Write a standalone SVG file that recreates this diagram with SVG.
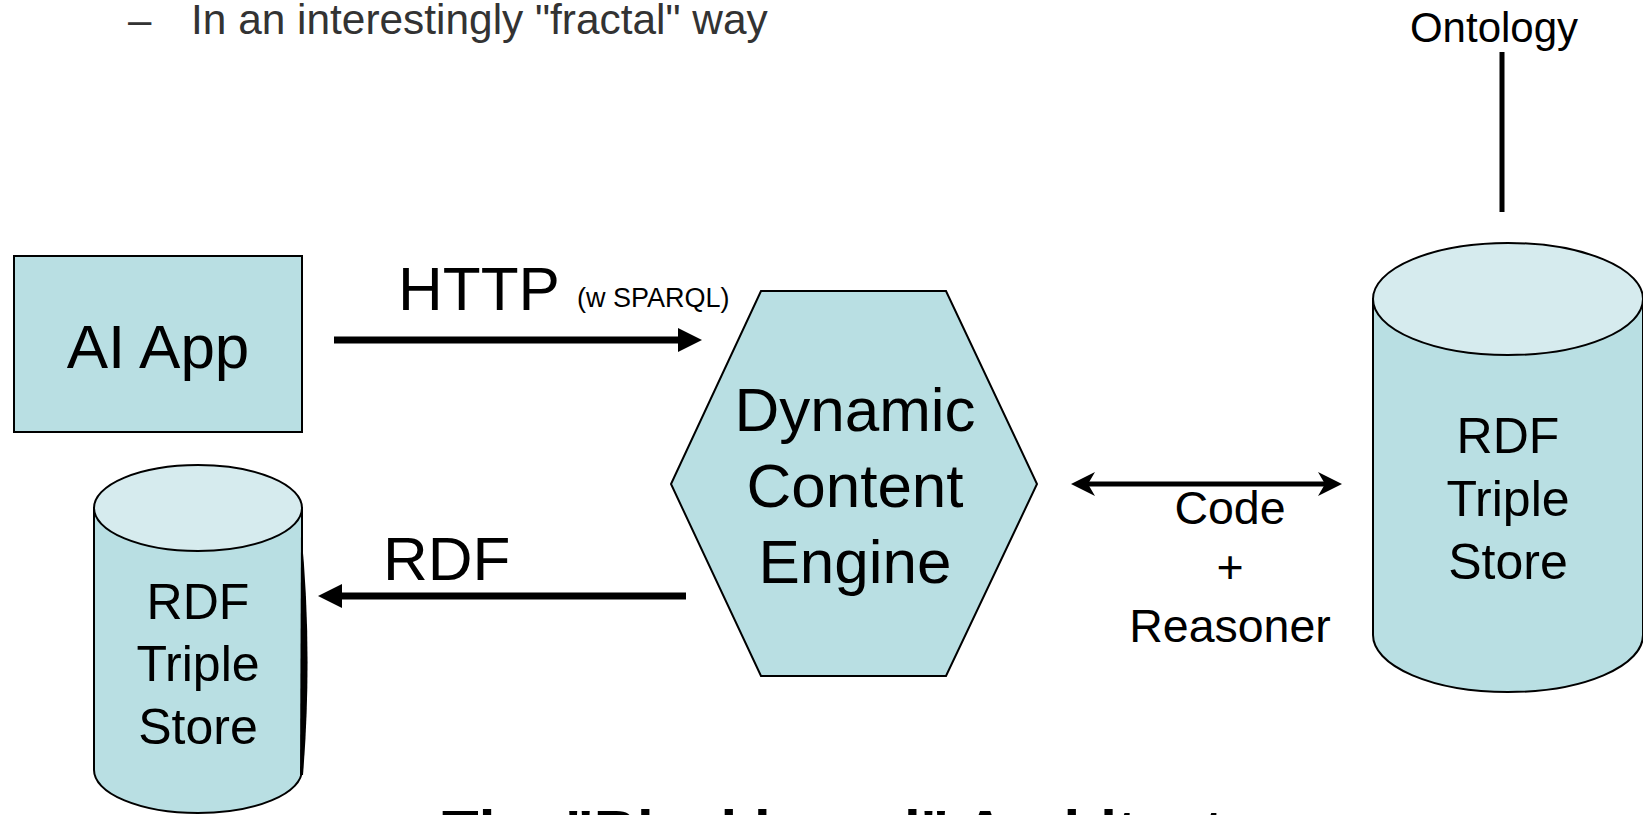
<svg xmlns="http://www.w3.org/2000/svg" width="1643" height="815" viewBox="0 0 1643 815">
<style>
text{font-family:"Liberation Sans",Arial,sans-serif;fill:#000}
.body{fill:#B9DFE3;stroke:#000;stroke-width:2}
.top{fill:#D6EBEE;stroke:#000;stroke-width:2}
.big{font-size:62px}
.store{font-size:50px;text-anchor:middle}
.mid{text-anchor:middle}
.conn{stroke:#000;fill:none}
</style>
<defs>
<marker id="tri" viewBox="0 0 24 24" markerUnits="userSpaceOnUse" markerWidth="24" markerHeight="24" refX="12" refY="12" orient="auto">
<path d="M0,0 L24,12 L0,24 z" fill="#000"/>
</marker>
<marker id="barb" viewBox="0 0 24 24" markerUnits="userSpaceOnUse" markerWidth="24" markerHeight="24" refX="12" refY="12" orient="auto-start-reverse">
<path d="M0,0 L24,12 L0,24 L7,12 z" fill="#000"/>
</marker>
</defs>
<rect width="1643" height="815" fill="#fff"/>

<g id="bullet">
<text x="128" y="34" font-size="42" style="fill:#333">–</text>
<text x="191" y="34" font-size="42.4" style="fill:#333">In an interestingly "fractal" way</text>
</g>

<g id="ontology">
<text x="1494" y="42" font-size="42" class="mid">Ontology</text>
</g>

<g id="ai-app">
<rect x="14" y="256" width="288" height="176" class="body"/>
<text x="158" y="368" class="big mid">AI App</text>
</g>

<g id="engine">
<polygon points="761,291 946,291 1037,484 946,676 761,676 671,484" class="body"/>
<text x="855" y="431" class="big mid">Dynamic</text>
<text x="855" y="507" class="big mid">Content</text>
<text x="855" y="583" class="big mid">Engine</text>
</g>

<g id="store-right">
<path d="M1373,299 L1373,635 A135,57 0 0 0 1643,635 L1643,299 Z" class="body"/>
<ellipse cx="1508" cy="299" rx="135" ry="56" class="top"/>
<text x="1508" y="453" class="store">RDF</text>
<text x="1508" y="516" class="store">Triple</text>
<text x="1508" y="579" class="store">Store</text>
</g>

<g id="store-left">
<path d="M94,508 L94,770 A104,43 0 0 0 302,770 L302,508 Z" class="body"/>
<path d="M301,530 Q313,650 303,775 L300,775 Z" fill="#000"/>
<ellipse cx="198" cy="508" rx="104" ry="43" class="top"/>
<text x="198" y="619" class="store">RDF</text>
<text x="198" y="681" class="store">Triple</text>
<text x="198" y="744" class="store">Store</text>
</g>

<g id="connectors">
<line x1="334" y1="340" x2="690" y2="340" class="conn" stroke-width="7" marker-end="url(#tri)"/>
<line x1="686" y1="596" x2="330" y2="596" class="conn" stroke-width="7" marker-end="url(#tri)"/>
<line x1="1083" y1="484" x2="1330" y2="484" class="conn" stroke-width="5" marker-start="url(#barb)" marker-end="url(#barb)"/>
<line x1="1502" y1="52" x2="1502" y2="212" class="conn" stroke-width="5"/>
</g>

<g id="labels">
<text x="398" y="310" class="big">HTTP</text>
<text x="577" y="307" font-size="27">(w SPARQL)</text>
<text x="383" y="580" class="big">RDF</text>
<text x="1230" y="524" font-size="46.5" class="mid">Code</text>
<text x="1230" y="583" font-size="46.5" class="mid">+</text>
<text x="1230" y="642" font-size="46.5" class="mid">Reasoner</text>
</g>

<g id="caption">
<text x="442" y="852" font-size="60" font-weight="bold">The "Blackboard" Architecture</text>
</g>
</svg>
